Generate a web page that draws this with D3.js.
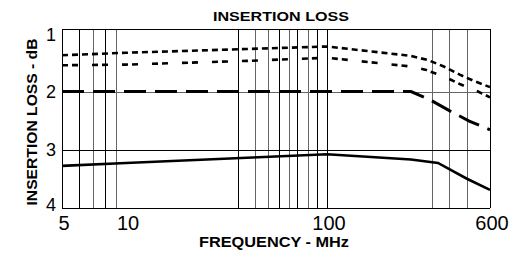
<!DOCTYPE html>
<html>
<head>
<meta charset="utf-8">
<script src="https://cdn.jsdelivr.net/npm/d3@7"></script>
<style>
  body { margin: 0; background: #fff; }
  text { font-family: 'Liberation Sans', Arial, sans-serif; }
</style>
</head>
<body>
<div class="container"></div>
<script>
// values (frequency in MHz, loss in dB)
const xTicks = [5, 10, 100, 600];
const yTicks = [1, 2, 3, 4];
const gridFreqs = [6, 7, 8, 9, 36, 44, 51, 58, 65, 71, 80, 89, 360, 420, 490];
const gridGray = [false, true, false, true, false, true, true, false, true, false, true, false, true, true, true];

const topCurve = [[5, 1.42], [10, 1.38], [40, 1.32], [100, 1.28], [300, 1.43], [350, 1.5], [400, 1.6], [460, 1.73], [520, 1.83], [600, 1.93]];
const secondCurve = [[5, 1.58], [10, 1.57], [40, 1.51], [100, 1.46], [300, 1.6], [340, 1.65], [410, 1.78], [460, 1.88], [540, 2.0], [600, 2.1]];
const longDashCurve = [[5, 2.0], [300, 2.0], [350, 2.13], [420, 2.33], [500, 2.51], [600, 2.66]];
const solidCurve = [[5, 3.28], [10, 3.23], [40, 3.14], [100, 3.08], [300, 3.17], [380, 3.23], [490, 3.5], [600, 3.69]];

const renderChart = () => {
  const width = 511;
  const height = 256;

  const svg = d3.select('.container').append('svg').attr('width', width).attr('height', height);
  svg.append('rect').attr('width', width).attr('height', height).attr('fill', '#fff');

  // the printed axis is not a clean log / linear scale, so it is piecewise
  const xScale = d3.scaleLog().domain([5, 10, 100, 300, 600]).range([62, 126, 327, 411, 490]);
  const yScale = d3.scaleLinear().domain([1, 2, 3, 4]).range([29, 91.5, 149.5, 208]);

  const grid = svg.append('g').attr('class', 'grid');
  grid
    .selectAll('line.v')
    .data(gridFreqs)
    .enter()
    .append('line')
    .attr('x1', d => Math.round(xScale(d)) + 0.5)
    .attr('x2', d => Math.round(xScale(d)) + 0.5)
    .attr('y1', yScale(1))
    .attr('y2', yScale(4))
    .attr('stroke', (d, i) => (gridGray[i] ? '#666' : '#000'))
    .attr('stroke-width', 1);

  grid
    .selectAll('line.h')
    .data(yTicks)
    .enter()
    .append('line')
    .attr('x1', xScale(5))
    .attr('x2', xScale(600))
    .attr('y1', d => Math.round(yScale(d)) + 0.5)
    .attr('y2', d => Math.round(yScale(d)) + 0.5)
    .attr('stroke', d => (d === 2 ? '#666' : '#000'))
    .attr('stroke-width', 1);

  grid
    .selectAll('line.xt')
    .data([5, 100, 600])
    .enter()
    .append('line')
    .attr('x1', d => Math.round(xScale(d)) + 0.5)
    .attr('x2', d => Math.round(xScale(d)) + 0.5)
    .attr('y1', yScale(1))
    .attr('y2', yScale(4))
    .attr('stroke', '#000')
    .attr('stroke-width', 1);

  const line = d3
    .line()
    .x(d => xScale(d[0]))
    .y(d => yScale(d[1]));

  const series = [
    { data: topCurve, dash: '6,4', w: 2.6 },
    { data: secondCurve, dash: '6,4,6,14', w: 2.6 },
    { data: longDashCurve, dash: '22,9', w: 3 },
    { data: solidCurve, dash: null, w: 2.6 }
  ];

  svg
    .append('g')
    .attr('class', 'curves')
    .selectAll('path')
    .data(series)
    .enter()
    .append('path')
    .attr('d', s => line(s.data))
    .attr('fill', 'none')
    .attr('stroke', '#000')
    .attr('stroke-width', s => s.w)
    .attr('stroke-dasharray', s => s.dash);

  // tick labels
  svg
    .selectAll('text.ytick')
    .data(yTicks)
    .enter()
    .append('text')
    .attr('x', 56)
    .attr('y', d => Math.min(Math.max(yScale(d), 34), 204) + 6.5)
    .attr('text-anchor', 'end')
    .attr('font-size', 18)
    .text(d => d);

  svg
    .selectAll('text.xtick')
    .data(xTicks)
    .enter()
    .append('text')
    .attr('x', d => xScale(d) + 2)
    .attr('y', 230)
    .attr('text-anchor', 'middle')
    .attr('font-size', 20)
    .text(d => d);

  svg
    .append('text')
    .text('INSERTION LOSS')
    .attr('x', 281)
    .attr('y', 21)
    .attr('text-anchor', 'middle')
    .attr('font-size', 13)
    .attr('font-weight', 'bold')
    .attr('textLength', 136)
    .attr('lengthAdjust', 'spacingAndGlyphs');

  svg
    .append('text')
    .text('FREQUENCY - MHz')
    .attr('x', 274)
    .attr('y', 247)
    .attr('text-anchor', 'middle')
    .attr('font-size', 14)
    .attr('font-weight', 'bold')
    .attr('textLength', 150)
    .attr('lengthAdjust', 'spacingAndGlyphs');

  svg
    .append('text')
    .text('INSERTION LOSS - dB')
    .attr('x', -122)
    .attr('y', 37)
    .attr('text-anchor', 'middle')
    .attr('transform', 'rotate(-90)')
    .attr('font-size', 14)
    .attr('font-weight', 'bold')
    .attr('textLength', 167)
    .attr('lengthAdjust', 'spacingAndGlyphs');
};

renderChart();
</script>
</body>
</html>
